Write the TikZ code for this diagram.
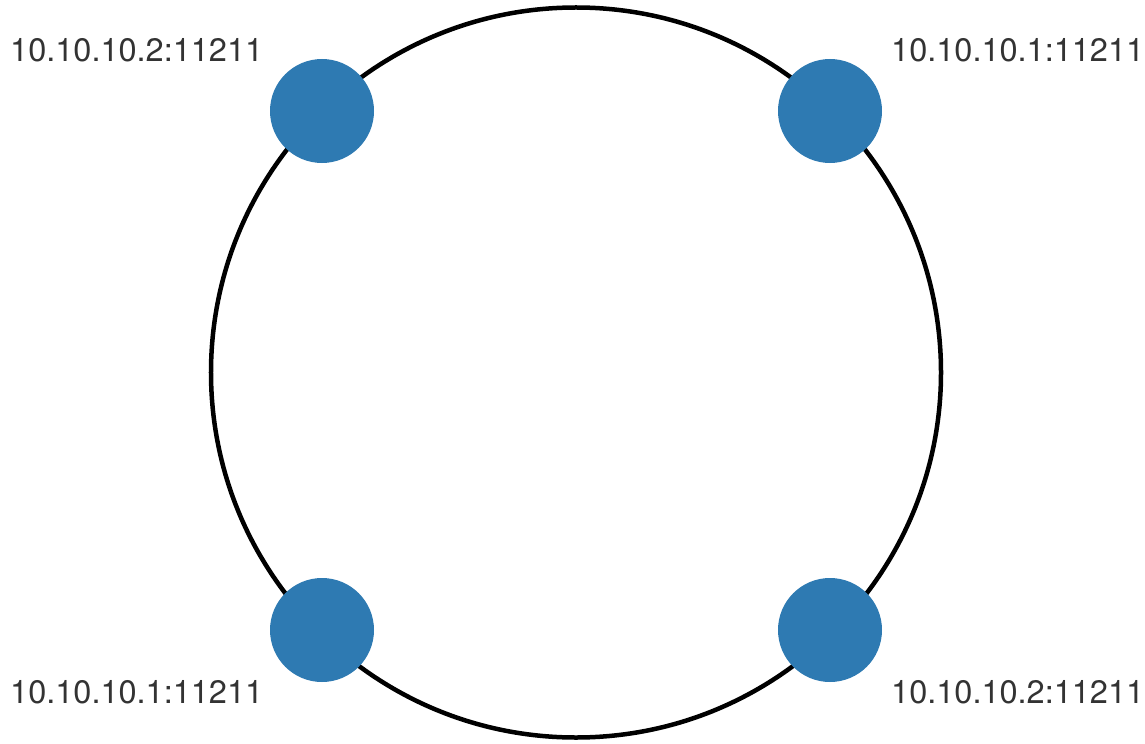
\documentclass[tikz,border=0pt]{standalone}
\usepackage{fontspec}
\setmainfont{TeX Gyre Heros}
\definecolor{dotblue}{RGB}{46,122,178}
\definecolor{labelgray}{RGB}{51,51,51}
\tikzset{
  ring/.style={circle, draw=black, line width=4.5bp, minimum size=730bp, inner sep=0pt},
  server/.style={circle, fill=dotblue, minimum size=104bp, inner sep=0pt},
  addr/.style={text=labelgray, font=\fontsize{32.5bp}{38bp}\selectfont, inner sep=0pt}
}
\begin{document}
\begin{tikzpicture}[x=1bp,y=-1bp]
\useasboundingbox (0,0) rectangle (1145,744);
\node[ring] (ring) at (576,372.5) {};
\node[server] (s1) at (322,111) {};
\node[server] (s2) at (830,111) {};
\node[server] (s3) at (322,630) {};
\node[server] (s4) at (830,630) {};
\node[addr, anchor=base west] (l1) at (10,62) {10.10.10.2:11211};
\node[addr, anchor=base west] (l2) at (891,62) {10.10.10.1:11211};
\node[addr, anchor=base west] (l3) at (10,703) {10.10.10.1:11211};
\node[addr, anchor=base west] (l4) at (891,703) {10.10.10.2:11211};
\end{tikzpicture}
\end{document}
